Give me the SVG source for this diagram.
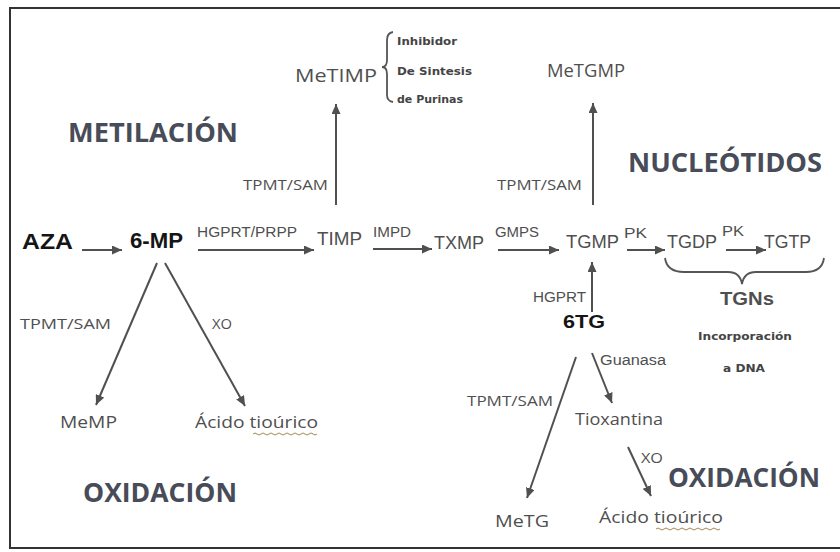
<svg xmlns="http://www.w3.org/2000/svg" width="840" height="552" viewBox="0 0 840 552">
<style>
.cal{font-family:"Open Sans","Liberation Sans",sans-serif;fill:#4f4f4f}
.ari{font-family:"Liberation Sans",Arial,sans-serif;fill:#4f4f4f}
.hand{font-family:"DejaVu Sans","Liberation Sans",sans-serif;fill:#444;font-size:11px;font-weight:bold}
.head{font-family:"Open Sans","Liberation Sans",sans-serif;font-weight:bold;fill:#474c58;font-size:27px}
.key{font-family:"Liberation Sans",Arial,sans-serif;font-weight:bold;fill:#151515}
.lbl{font-size:15px}
.arr{stroke:#505050;stroke-width:2;fill:none;marker-end:url(#ah)}
.brace{stroke:#555;stroke-width:1.8;fill:none}
.wavy{stroke:#a08a50;stroke-width:1;fill:none}
</style>
<defs>
<marker id="ah" markerUnits="userSpaceOnUse" markerWidth="11" markerHeight="9" refX="10" refY="4.5" orient="auto">
<path d="M0,0 L10,4.5 L0,9 z" fill="#505050"/>
</marker>
</defs>
<rect x="0" y="0" width="840" height="552" fill="#fff"/>
<rect x="10" y="8" width="845" height="540" fill="none" stroke="#333" stroke-width="2"/>

<g id="connectors">
<line class="arr" x1="82" y1="250" x2="122" y2="250"/>
<line class="arr" x1="198" y1="250" x2="314" y2="250"/>
<line class="arr" x1="373" y1="249" x2="432" y2="249"/>
<line class="arr" x1="498" y1="250" x2="559" y2="250"/>
<line class="arr" x1="627" y1="250" x2="665" y2="250"/>
<line class="arr" x1="726" y1="250" x2="766" y2="250"/>
<line class="arr" x1="336" y1="205" x2="336" y2="104"/>
<line class="arr" x1="593" y1="205" x2="593" y2="103"/>
<line class="arr" x1="592" y1="312" x2="592" y2="262"/>
<line class="arr" x1="157" y1="263" x2="96" y2="405"/>
<line class="arr" x1="165" y1="263" x2="245" y2="406"/>
<line class="arr" x1="576" y1="357" x2="527" y2="498"/>
<line class="arr" x1="592" y1="353" x2="612" y2="403"/>
<line class="arr" x1="628" y1="447" x2="651" y2="496"/>
</g>

<g id="labels-head">
<text class="head" x="68" y="142" font-size="28" textLength="170" lengthAdjust="spacingAndGlyphs">METILACIÓN</text>
<text class="head" x="628" y="172" font-size="28" textLength="194" lengthAdjust="spacingAndGlyphs">NUCLEÓTIDOS</text>
<text class="head" x="83" y="502" textLength="154" lengthAdjust="spacingAndGlyphs">OXIDACIÓN</text>
<text class="head" x="668" y="487" textLength="152" lengthAdjust="spacingAndGlyphs">OXIDACIÓN</text>
</g>

<g id="AZA"><text class="key" x="22" y="249" font-size="22" textLength="51" lengthAdjust="spacingAndGlyphs">AZA</text></g>
<g id="n6MP"><text class="key" x="130" y="248" font-size="22" textLength="53" lengthAdjust="spacingAndGlyphs">6-MP</text></g>
<g id="TIMP"><text class="ari" x="317" y="245" font-size="18" textLength="45" lengthAdjust="spacingAndGlyphs">TIMP</text></g>
<g id="TXMP"><text class="ari" x="434" y="249" font-size="18" textLength="50" lengthAdjust="spacingAndGlyphs">TXMP</text></g>
<g id="TGMP"><text class="ari" x="566" y="248" font-size="19" textLength="53" lengthAdjust="spacingAndGlyphs">TGMP</text></g>
<g id="TGDP"><text class="ari" x="667" y="248" font-size="19" textLength="50" lengthAdjust="spacingAndGlyphs">TGDP</text></g>
<g id="TGTP"><text class="ari" x="764" y="248" font-size="19" textLength="47" lengthAdjust="spacingAndGlyphs">TGTP</text></g>
<g id="TGNs">
<path class="brace" d="M665,258 Q667,272 684,272 L728,272 Q740,272 742,284 Q744,272 756,272 L806,272 Q822,272 824,258"/>
<text class="ari" x="720" y="305" font-size="18" font-weight="bold" fill="#555" textLength="54" lengthAdjust="spacingAndGlyphs">TGNs</text>
<text class="hand" x="698" y="340" textLength="94" lengthAdjust="spacingAndGlyphs">Incorporación</text>
<text class="hand" x="723" y="372" textLength="42" lengthAdjust="spacingAndGlyphs">a DNA</text>
</g>
<g id="n6TG"><text class="key" x="563" y="328" font-size="19" fill="#222" textLength="42" lengthAdjust="spacingAndGlyphs">6TG</text></g>
<g id="MeTIMP">
<text class="cal" x="295" y="82" font-size="19" textLength="82" lengthAdjust="spacingAndGlyphs">MeTIMP</text>
<path class="brace" d="M393,32 Q387,33 387,40 L387,60 Q387,67 382,67 Q387,67 387,74 L387,95 Q387,101 393,102"/>
<text class="hand" x="397" y="45" textLength="60" lengthAdjust="spacingAndGlyphs">Inhibidor</text>
<text class="hand" x="397" y="75" textLength="75" lengthAdjust="spacingAndGlyphs">De Sintesis</text>
<text class="hand" x="397" y="103" textLength="66" lengthAdjust="spacingAndGlyphs">de Purinas</text>
</g>
<g id="MeTGMP"><text class="cal" x="547" y="77" font-size="18" textLength="78" lengthAdjust="spacingAndGlyphs">MeTGMP</text></g>
<g id="MeMP"><text class="cal" x="60" y="428" font-size="17" textLength="57" lengthAdjust="spacingAndGlyphs">MeMP</text></g>
<g id="AcidoL">
<text class="cal" x="195" y="428" font-size="17" textLength="123" lengthAdjust="spacingAndGlyphs">Ácido tioúrico</text>
<path class="wavy" d="M253,434 q2,-2 4,0 t4,0 t4,0 t4,0 t4,0 t4,0 t4,0 t4,0 t4,0 t4,0 t4,0 t4,0 t4,0 t4,0 t4,0 t4,0"/>
</g>
<g id="Tioxantina"><text class="cal" x="575" y="425" font-size="17" textLength="88" lengthAdjust="spacingAndGlyphs">Tioxantina</text></g>
<g id="MeTG"><text class="cal" x="495" y="527" font-size="17" textLength="54" lengthAdjust="spacingAndGlyphs">MeTG</text></g>
<g id="AcidoR">
<text class="cal" x="599" y="523" font-size="17" textLength="124" lengthAdjust="spacingAndGlyphs">Ácido tioúrico</text>
<path class="wavy" d="M656,529 q2,-2 4,0 t4,0 t4,0 t4,0 t4,0 t4,0 t4,0 t4,0 t4,0 t4,0 t4,0 t4,0 t4,0 t4,0 t4,0 t4,0"/>
</g>

<g id="enzymes">
<text class="ari" x="197" y="237" font-size="14" textLength="100" lengthAdjust="spacingAndGlyphs">HGPRT/PRPP</text>
<text class="ari" x="373" y="237" font-size="14" textLength="38" lengthAdjust="spacingAndGlyphs">IMPD</text>
<text class="ari" x="495" y="237" font-size="15" textLength="44" lengthAdjust="spacingAndGlyphs">GMPS</text>
<text class="ari" x="624" y="238" font-size="15" textLength="23" lengthAdjust="spacingAndGlyphs">PK</text>
<text class="ari" x="722" y="236" font-size="15" textLength="22" lengthAdjust="spacingAndGlyphs">PK</text>
<text class="ari" x="533" y="302" font-size="15" textLength="53" lengthAdjust="spacingAndGlyphs">HGPRT</text>
<text class="ari" x="600" y="365" font-size="14" textLength="66" lengthAdjust="spacingAndGlyphs">Guanasa</text>
<text class="cal lbl" x="243" y="190" textLength="85" lengthAdjust="spacingAndGlyphs">TPMT/SAM</text>
<text class="cal lbl" x="497" y="190" textLength="85" lengthAdjust="spacingAndGlyphs">TPMT/SAM</text>
<text class="cal lbl" x="20" y="329" textLength="91" lengthAdjust="spacingAndGlyphs">TPMT/SAM</text>
<text class="cal lbl" x="212" y="329" textLength="20" lengthAdjust="spacingAndGlyphs">XO</text>
<text class="cal lbl" x="467" y="406" textLength="86" lengthAdjust="spacingAndGlyphs">TPMT/SAM</text>
<text class="cal lbl" x="641" y="463" textLength="22" lengthAdjust="spacingAndGlyphs">XO</text>
</g>
</svg>
